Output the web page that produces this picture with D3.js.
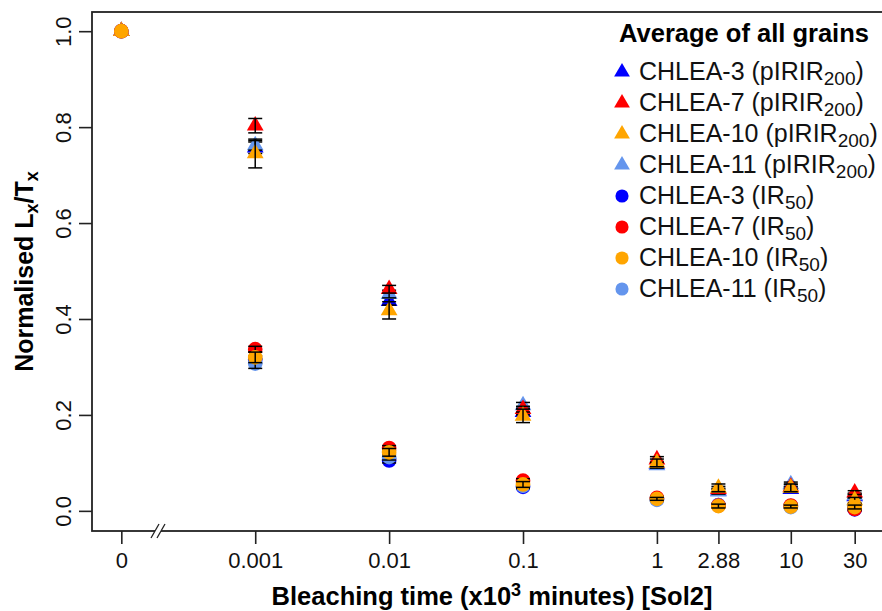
<!DOCTYPE html>
<html>
<head>
<meta charset="utf-8">
<script src="https://cdn.jsdelivr.net/npm/d3@7"></script>
<style>
  body { margin: 0; background: #fff; }
  svg text { font-family: "Liberation Sans", Arial, Helvetica, sans-serif; }
</style>
</head>
<body>
<div id="chart"></div>
<script>
// ---- data
var timeLabels = ["0", "0.001", "0.01", "0.1", "1", "2.88", "10", "30"];
var times = [0, 0.001, 0.01, 0.1, 1, 2.88, 10, 30];
var zeroAt = 0.0001;   // where "0" sits on the broken log axis

var samples = ["CHLEA-3", "CHLEA-7", "CHLEA-10", "CHLEA-11"];
var colors = ["#0000ff", "#ff0000", "#ffa500", "#6495ed"];

// pIRIR200 (triangles)
var pir3 = [1, 0.757, 0.437, 0.206, 0.098, 0.042, 0.045, 0.030];
var pir3Err = [0, 0.012, 0.008, 0.006, 0.005, 0.005, 0.006, 0.005];
var pir7 = [1, 0.803, 0.462, 0.212, 0.107, 0.045, 0.050, 0.038];
var pir7Err = [0, 0.015, 0.008, 0.006, 0.006, 0.006, 0.005, 0.004];
var pir10 = [1, 0.745, 0.418, 0.198, 0.100, 0.048, 0.048, 0.022];
var pir10Err = [0, 0.030, 0.018, 0.014, 0.008, 0.008, 0.008, 0.006];
var pir11 = [1, 0.762, 0.452, 0.220, 0.095, 0.040, 0.055, 0.032];
var pir11Err = [0, 0.010, 0.008, 0.006, 0.006, 0.005, 0.005, 0.005];

// IR50 (circles)
var ir3 = [1, 0.315, 0.105, 0.050, 0.024, 0.012, 0.010, 0.003];
var ir3Err = [0, 0.008, 0.005, 0.004, 0.003, 0.003, 0.003, 0.003];
var ir7 = [1, 0.337, 0.131, 0.063, 0.027, 0.011, 0.011, 0.004];
var ir7Err = [0, 0.006, 0.005, 0.004, 0.003, 0.003, 0.003, 0.003];
var ir10 = [1, 0.320, 0.122, 0.055, 0.025, 0.010, 0.009, 0.008];
var ir10Err = [0, 0.011, 0.008, 0.006, 0.003, 0.004, 0.003, 0.004];
var ir11 = [1, 0.307, 0.112, 0.052, 0.023, 0.012, 0.008, 0.007];
var ir11Err = [0, 0.010, 0.006, 0.005, 0.003, 0.003, 0.003, 0.003];

var yTicks = [0, 0.2, 0.4, 0.6, 0.8, 1.0];

// series in drawing order (orange ends up on top)
var series = [
  {shape: "tri", s: 0, v: pir3, e: pir3Err},
  {shape: "tri", s: 3, v: pir11, e: pir11Err},
  {shape: "tri", s: 1, v: pir7, e: pir7Err},
  {shape: "tri", s: 2, v: pir10, e: pir10Err},
  {shape: "dot", s: 0, v: ir3, e: ir3Err},
  {shape: "dot", s: 3, v: ir11, e: ir11Err},
  {shape: "dot", s: 1, v: ir7, e: ir7Err},
  {shape: "dot", s: 2, v: ir10, e: ir10Err}
];

var legendRows = [
  {shape: "tri", s: 0, sub: "200", proto: "pIRIR"},
  {shape: "tri", s: 1, sub: "200", proto: "pIRIR"},
  {shape: "tri", s: 2, sub: "200", proto: "pIRIR"},
  {shape: "tri", s: 3, sub: "200", proto: "pIRIR"},
  {shape: "dot", s: 0, sub: "50", proto: "IR"},
  {shape: "dot", s: 1, sub: "50", proto: "IR"},
  {shape: "dot", s: 2, sub: "50", proto: "IR"},
  {shape: "dot", s: 3, sub: "50", proto: "IR"}
];

// ---- plotting
var W = 882, H = 611;
var plot = {left: 92, top: 12, right: 884, bottom: 531};

var svg = d3.select("#chart").append("svg")
    .attr("width", W).attr("height", H);

var x = d3.scaleLog()
    .domain([Math.pow(10, -4.219), Math.pow(10, 1.696)])
    .range([plot.left, plot.right]);
var y = d3.scaleLinear()
    .domain([-0.042, 1.04])
    .range([plot.bottom, plot.top]);

function xPos(t) { return x(t === 0 ? zeroAt : t); }

var triangle = d3.symbol().type(d3.symbolTriangle).size(122);
var dot = d3.symbol().type(d3.symbolCircle).size(170);

// axes
var yAxis = d3.axisLeft(y).tickValues(yTicks).tickSize(13).tickPadding(4)
    .tickFormat(d3.format(".1f"));
var gy = svg.append("g").attr("transform", "translate(" + plot.left + ",0)").call(yAxis);
gy.select(".domain").remove();
gy.selectAll(".tick line").attr("stroke", "#222").attr("stroke-width", 1.6);
gy.selectAll(".tick text")
    .attr("font-size", 22).attr("fill", "#111")
    .attr("x", null).attr("dy", null)
    .attr("text-anchor", "middle")
    .attr("transform", "translate(-29,0) rotate(-90)")
    .attr("dominant-baseline", "central");

var xAxis = d3.axisBottom(x).tickValues(times.map(function(t) { return t === 0 ? zeroAt : t; }))
    .tickSize(13).tickPadding(8)
    .tickFormat(function(d, i) { return timeLabels[i]; });
var gx = svg.append("g").attr("transform", "translate(0," + plot.bottom + ")").call(xAxis);
gx.select(".domain").remove();
gx.selectAll(".tick line").attr("stroke", "#222").attr("stroke-width", 1.6);
gx.selectAll(".tick text").attr("font-size", 22).attr("fill", "#111");

// plot frame
svg.append("rect")
    .attr("x", plot.left).attr("y", plot.top)
    .attr("width", plot.right - plot.left).attr("height", plot.bottom - plot.top)
    .attr("fill", "none").attr("stroke", "#222").attr("stroke-width", 1.8);

// axis break marks
var bx = 158;
svg.append("rect").attr("x", bx - 3).attr("y", plot.bottom - 3).attr("width", 6).attr("height", 6)
    .attr("fill", "#fff");
[-3, 3].forEach(function(o) {
  svg.append("line")
      .attr("x1", bx + o - 4).attr("y1", plot.bottom + 7)
      .attr("x2", bx + o + 4).attr("y2", plot.bottom - 7)
      .attr("stroke", "#222").attr("stroke-width", 1.3);
});

// points with error bars
var cap = 7;
series.forEach(function(sr) {
  var g = svg.append("g");
  sr.v.forEach(function(v, i) {
    var cx = xPos(times[i]), cy = y(v);
    g.append("path")
        .attr("d", sr.shape === "tri" ? triangle() : dot())
        .attr("transform", "translate(" + cx + "," + cy + ")")
        .attr("fill", colors[sr.s]);
    var err = sr.e[i];
    if (err > 0) {
      var y0 = y(v - err), y1 = y(v + err);
      g.append("line").attr("x1", cx).attr("x2", cx).attr("y1", y0).attr("y2", y1)
          .attr("stroke", "#000").attr("stroke-width", 1.5);
      [y0, y1].forEach(function(yy) {
        g.append("line").attr("x1", cx - cap).attr("x2", cx + cap).attr("y1", yy).attr("y2", yy)
            .attr("stroke", "#000").attr("stroke-width", 1.5);
      });
    }
  });
});

// axis titles
svg.append("text")
    .attr("x", 492).attr("y", 605)
    .attr("text-anchor", "middle").attr("font-size", 25.5).attr("font-weight", "bold")
    .call(function(t) {
      t.append("tspan").text("Bleaching time (x10");
      t.append("tspan").attr("font-size", 18).attr("dy", -9).text("3");
      t.append("tspan").attr("dy", 9).text(" minutes) [Sol2]");
    });

svg.append("text")
    .attr("transform", "translate(33," + ((plot.top + plot.bottom) / 2) + ") rotate(-90)")
    .attr("text-anchor", "middle").attr("font-size", 25).attr("font-weight", "bold")
    .call(function(t) {
      t.append("tspan").text("Normalised L");
      t.append("tspan").attr("font-size", 18).attr("dy", 5).text("x");
      t.append("tspan").attr("dy", -5).text("/T");
      t.append("tspan").attr("font-size", 18).attr("dy", 5).text("x");
    });

// legend
var legend = svg.append("g");
legend.append("text")
    .attr("x", 744).attr("y", 42)
    .attr("text-anchor", "middle").attr("font-size", 25.5).attr("font-weight", "bold")
    .text("Average of all grains");

var rowY = d3.scaleLinear().domain([0, 7]).range([80, 297]);
var legTri = d3.symbol().type(d3.symbolTriangle).size(108);
var legDot = d3.symbol().type(d3.symbolCircle).size(135);

legendRows.forEach(function(r, i) {
  var by = rowY(i);
  legend.append("path")
      .attr("d", r.shape === "tri" ? legTri() : legDot())
      .attr("transform", "translate(622," + (by - 8) + ")")
      .attr("fill", colors[r.s]);
  var t = legend.append("text").attr("x", 639).attr("y", by).attr("font-size", 25).attr("fill", "#111");
  t.append("tspan").text(samples[r.s] + " (" + r.proto);
  t.append("tspan").attr("font-size", 19).attr("dy", 5).text(r.sub);
  t.append("tspan").attr("dy", -5).text(")");
});
</script>
</body>
</html>
